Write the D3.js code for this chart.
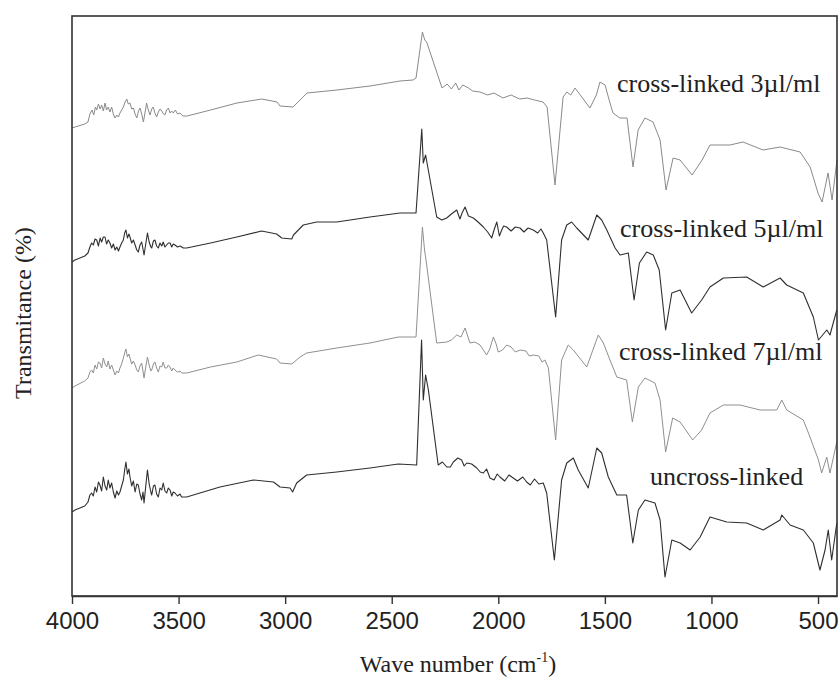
<!DOCTYPE html>
<html>
<head>
<meta charset="utf-8">
<script src="https://cdn.jsdelivr.net/npm/d3@7"></script>
<style>
  html, body { margin: 0; padding: 0; background: #fff; }
  svg { display: block; }
</style>
</head>
<body>
<svg id="chart" width="840" height="683"></svg>
<script>
// FTIR spectra, stacked with vertical offsets: [wavenumber (cm-1), transmittance (a.u.)]
const crossLinked3 = [
  [4000,46.8],[3986,46.9],[3940,47.2],[3925,47.4],[3916,48.2],[3906,48.6],[3898,48.1],[3890,48.9],
  [3884,48.6],[3876,49.2],[3868,48.7],[3861,49.1],[3853,48.5],[3845,49.3],[3838,48.6],[3830,48.9],
  [3822,48.4],[3814,48.9],[3806,48.2],[3798,47.8],[3790,48.1],[3782,47.9],[3775,48.3],[3767,48.6],
  [3759,48.9],[3751,49.4],[3743,49.7],[3736,49.2],[3728,49.3],[3720,48.7],[3712,48.8],[3704,48.2],
  [3696,47.8],[3688,48.5],[3681,48.8],[3673,48.2],[3665,47.4],[3657,48.4],[3650,49.3],[3642,48.6],
  [3634,48.1],[3626,48.7],[3619,48.9],[3611,48.3],[3603,47.9],[3595,48.4],[3587,48.7],[3579,48.5],
  [3571,48.2],[3564,48.1],[3556,48.6],[3548,48.8],[3540,48.3],[3532,48.5],[3525,48.3],[3515,48.6],
  [3505,48.2],[3493,48.3],[3480,48.0],[3460,48.0],[3350,48.6],[3226,49.3],[3109,49.7],[3038,49.4],
  [3024,49.0],[2963,48.9],[2930,49.6],[2897,50.3],[2757,50.6],[2602,51.0],[2461,51.5],[2400,51.6],
  [2386,51.8],[2356,56.4],[2345,55.6],[2336,55.4],[2264,50.8],[2240,51.2],[2220,50.7],[2200,51.3],
  [2185,50.6],[2166,51.1],[2140,50.8],[2120,50.5],[2086,50.4],[2050,50.1],[2020,50.3],[1978,49.8],
  [1940,50.1],[1900,49.7],[1865,49.8],[1830,49.6],[1790,49.4],[1771,48.9],[1734,41.1],[1696,49.9],
  [1678,50.4],[1660,50.1],[1640,50.8],[1570,48.8],[1540,50.1],[1523,51.4],[1499,51.1],[1480,49.6],
  [1462,48.3],[1430,47.8],[1396,47.8],[1368,42.9],[1344,46.6],[1312,47.8],[1274,47.4],[1241,45.6],
  [1213,40.6],[1180,43.8],[1147,43.6],[1091,42.1],[1044,43.6],[1007,45.1],[913,45.1],[852,45.4],
  [758,44.6],[678,44.9],[584,44.4],[537,42.9],[500,40.3],[481,39.4],[453,42.3],[434,39.6],[411,43.6]
];

const crossLinked5 = [
  [4000,33.4],[3986,33.6],[3940,34.0],[3925,34.3],[3916,34.9],[3908,35.3],[3900,35.1],[3892,35.7],
  [3884,35.6],[3876,35.0],[3868,35.8],[3861,35.4],[3853,35.9],[3845,35.9],[3838,35.2],[3830,35.6],
  [3822,35.3],[3814,34.8],[3806,35.2],[3798,34.6],[3790,34.9],[3782,34.5],[3775,34.9],[3767,35.3],
  [3759,35.6],[3753,36.3],[3747,36.6],[3740,35.8],[3733,36.2],[3728,35.9],[3720,35.3],[3712,35.6],
  [3704,35.1],[3696,34.6],[3689,34.4],[3681,35.1],[3673,35.4],[3667,34.7],[3662,34.1],[3654,35.2],
  [3646,36.3],[3638,35.4],[3630,34.9],[3626,34.8],[3618,35.5],[3611,35.6],[3603,35.0],[3595,34.8],
  [3587,35.3],[3579,35.0],[3572,35.4],[3564,34.9],[3556,35.1],[3548,35.3],[3540,35.3],[3532,34.9],
  [3525,35.2],[3517,35.1],[3505,34.9],[3493,35.0],[3478,34.8],[3462,34.8],[3350,35.3],[3227,35.9],
  [3110,36.5],[3040,36.2],[3016,35.8],[2969,35.7],[2961,36.1],[2915,37.1],[2852,37.4],[2758,37.4],
  [2602,37.9],[2461,38.3],[2386,38.3],[2359,46.7],[2352,43.3],[2341,44.1],[2289,37.9],[2265,37.6],
  [2242,37.8],[2220,38.2],[2195,38.6],[2180,37.7],[2170,38.3],[2156,38.9],[2140,38.0],[2117,37.8],
  [2095,37.4],[2070,36.9],[2050,36.4],[2031,35.8],[2020,36.6],[2007,37.4],[1995,36.0],[1984,36.6],
  [1975,37.0],[1961,36.9],[1940,36.5],[1920,36.9],[1898,36.8],[1880,36.4],[1860,36.8],[1836,36.6],
  [1815,36.3],[1800,36.7],[1789,36.3],[1773,35.6],[1731,27.9],[1703,35.6],[1679,37.1],[1656,37.4],
  [1632,36.8],[1578,35.6],[1538,38.1],[1515,37.6],[1491,36.6],[1452,34.8],[1429,34.1],[1390,34.3],
  [1363,29.6],[1338,33.3],[1304,34.4],[1273,34.1],[1245,32.6],[1215,26.6],[1186,30.3],[1147,30.6],
  [1093,28.3],[1046,29.6],[1007,30.9],[944,31.8],[835,31.9],[757,30.9],[678,31.8],[647,31.1],
  [569,30.3],[522,27.9],[498,25.6],[459,26.6],[444,26.1],[412,28.6]
];

const crossLinked7 = [
  [4000,20.8],[3986,21.0],[3940,21.5],[3925,21.8],[3916,22.4],[3908,22.6],[3900,22.3],[3892,23.1],
  [3884,22.7],[3876,23.4],[3869,23.3],[3861,22.8],[3853,23.8],[3845,23.2],[3837,22.9],[3830,23.5],
  [3822,22.7],[3814,23.1],[3806,22.6],[3798,22.1],[3790,22.5],[3782,22.3],[3775,22.8],[3767,23.2],
  [3759,23.8],[3753,24.3],[3747,24.7],[3740,23.9],[3733,24.2],[3728,23.8],[3720,23.2],[3712,23.5],
  [3704,23.1],[3696,22.6],[3689,22.4],[3681,23.0],[3673,23.3],[3667,22.5],[3662,21.8],[3654,22.9],
  [3646,23.9],[3638,23.1],[3630,22.5],[3626,22.6],[3618,23.2],[3611,23.4],[3603,22.8],[3595,22.4],
  [3587,23.0],[3579,22.9],[3572,23.4],[3564,22.8],[3556,22.8],[3548,23.1],[3540,22.9],[3532,22.5],
  [3525,22.8],[3517,22.6],[3505,22.4],[3493,22.5],[3486,22.3],[3462,22.3],[3350,22.9],[3227,23.4],
  [3126,24.1],[3040,23.7],[3024,23.3],[2969,23.2],[2930,23.9],[2899,24.3],[2758,24.8],[2602,25.3],
  [2469,25.9],[2386,25.9],[2356,36.9],[2346,34.6],[2336,33.1],[2289,25.3],[2242,25.4],[2220,25.6],
  [2195,26.1],[2175,25.9],[2156,26.8],[2133,25.3],[2110,25.4],[2086,25.1],[2070,24.6],[2055,24.1],
  [2040,24.7],[2023,25.9],[2010,25.2],[2000,24.4],[1980,24.6],[1961,25.1],[1940,24.9],[1920,24.4],
  [1898,24.6],[1870,24.5],[1855,24.0],[1836,24.1],[1810,24.0],[1795,23.4],[1781,23.6],[1765,22.8],
  [1731,15.6],[1703,23.6],[1672,25.1],[1648,24.6],[1585,22.9],[1531,26.1],[1507,25.3],[1476,23.6],
  [1444,21.9],[1398,21.6],[1371,17.4],[1343,20.9],[1312,21.8],[1265,21.3],[1241,19.6],[1215,14.4],
  [1182,17.8],[1147,17.4],[1088,15.6],[1046,16.6],[1007,18.3],[944,19.1],[866,19.1],[772,18.6],
  [694,18.6],[670,19.6],[647,18.6],[569,17.6],[545,16.3],[498,13.6],[483,12.3],[459,13.9],
  [444,12.3],[412,15.4]
];

const uncrossLinked = [
  [4000,8.4],[3986,8.6],[3940,9.0],[3925,9.4],[3916,10.1],[3908,10.3],[3900,10.0],[3892,10.9],
  [3884,10.4],[3876,11.4],[3869,11.1],[3861,10.5],[3853,11.9],[3845,11.0],[3837,10.6],[3830,11.6],
  [3822,10.8],[3814,11.3],[3806,10.4],[3798,9.8],[3790,10.5],[3782,10.1],[3775,10.4],[3767,11.0],
  [3759,11.6],[3753,12.6],[3747,13.4],[3740,12.2],[3733,12.7],[3728,11.9],[3720,11.0],[3712,11.5],
  [3704,10.4],[3696,11.2],[3689,11.1],[3681,10.2],[3673,9.6],[3667,10.4],[3662,9.3],[3654,11.0],
  [3646,12.6],[3638,11.2],[3630,10.4],[3626,10.1],[3618,11.0],[3611,11.1],[3603,10.2],[3595,9.9],
  [3587,10.8],[3579,10.6],[3572,11.3],[3564,10.5],[3556,10.3],[3548,10.8],[3540,10.6],[3532,10.0],
  [3525,10.4],[3517,10.3],[3505,10.0],[3493,10.2],[3486,9.9],[3462,9.9],[3306,10.9],[3149,11.6],
  [3055,11.4],[3024,10.9],[2977,10.8],[2965,10.4],[2946,11.3],[2899,12.1],[2758,12.4],[2602,12.8],
  [2469,13.2],[2383,13.1],[2360,25.6],[2352,19.6],[2341,22.1],[2328,20.6],[2282,13.1],[2262,13.4],
  [2242,12.9],[2225,12.9],[2211,13.4],[2190,13.8],[2172,13.6],[2160,13.0],[2148,13.3],[2125,13.2],
  [2101,12.8],[2085,12.4],[2070,12.3],[2055,12.7],[2039,11.8],[2020,11.6],[2005,12.2],[1992,11.9],
  [1970,11.5],[1950,12.1],[1930,11.8],[1910,11.5],[1885,11.9],[1867,11.4],[1850,11.1],[1830,11.7],
  [1810,11.2],[1789,11.3],[1773,10.3],[1737,3.6],[1703,11.6],[1679,13.3],[1648,13.8],[1625,12.6],
  [1578,10.8],[1538,14.8],[1515,14.3],[1484,11.9],[1444,10.1],[1398,10.1],[1369,5.3],[1343,8.6],
  [1312,9.6],[1265,9.3],[1241,7.6],[1218,1.9],[1186,5.6],[1147,5.3],[1100,4.6],[1053,5.9],
  [1007,7.9],[928,7.4],[835,7.3],[757,6.6],[678,7.6],[670,8.1],[631,7.1],[569,6.6],
  [522,5.3],[491,2.6],[467,4.6],[452,6.6],[436,3.6],[412,7.3]
];

const seriesNames = ["cross-linked 3\u00b5l/ml", "cross-linked 5\u00b5l/ml", "cross-linked 7\u00b5l/ml", "uncross-linked"];
const seriesData = [crossLinked3, crossLinked5, crossLinked7, uncrossLinked];
// label anchor points, in data units [wavenumber, transmittance]
const labelPos = [[1443, 50.4], [1429, 35.9], [1434, 23.6], [1288, 11.1]];
const xTicks = [4000, 3500, 3000, 2500, 2000, 1500, 1000, 500];

const svg = d3.select("#chart");
const W = 840, H = 683;
const m = { left: 72, right: 837, top: 16, bottom: 596 };

const x = d3.scaleLinear().domain([4000, 411]).range([m.left, m.right]);
const y = d3.scaleLinear().domain([0, 58]).range([m.bottom, m.top]);

svg.append("rect").attr("width", W).attr("height", H).attr("fill", "#fff");

const strokes = ["#8a8a8a", "#2f2f2f", "#909090", "#2f2f2f"];
const widths = [1.0, 1.1, 1.0, 1.1];

const line = d3.line().x(d => x(d[0])).y(d => y(d[1]));

svg.append("g").selectAll("path")
  .data(seriesData)
  .join("path")
  .attr("d", line)
  .attr("fill", "none")
  .attr("stroke", (d, i) => strokes[i])
  .attr("stroke-width", (d, i) => widths[i])
  .attr("stroke-linejoin", "round");

// series labels
svg.append("g").selectAll("text")
  .data(seriesNames)
  .join("text")
  .attr("x", (d, i) => x(labelPos[i][0]))
  .attr("y", (d, i) => y(labelPos[i][1]))
  .attr("font-family", "'Liberation Serif', 'Times New Roman', serif")
  .attr("font-size", 26)
  .attr("fill", "#222")
  .text(d => d);

// frame
svg.append("rect")
  .attr("x", m.left).attr("y", m.top)
  .attr("width", m.right - m.left).attr("height", m.bottom - m.top)
  .attr("fill", "none").attr("stroke", "#333").attr("stroke-width", 1.6);

// bottom axis
const xAxis = d3.axisBottom(x).tickValues(xTicks).tickFormat(d3.format("d"))
  .tickSize(8).tickPadding(8).tickSizeOuter(0);
const gx = svg.append("g").attr("transform", `translate(0,${m.bottom})`).call(xAxis);
gx.select(".domain").attr("stroke", "#333").attr("stroke-width", 1.6);
gx.selectAll(".tick line").attr("stroke", "#333").attr("stroke-width", 1.4);
gx.selectAll(".tick text")
  .attr("font-family", "'Liberation Sans', Arial, sans-serif")
  .attr("font-size", 24)
  .attr("fill", "#222");

// axis titles
const xTitle = svg.append("text")
  .attr("x", 458).attr("y", 672)
  .attr("text-anchor", "middle")
  .attr("font-family", "'Liberation Serif', 'Times New Roman', serif")
  .attr("font-size", 24)
  .attr("fill", "#222");
xTitle.append("tspan").text("Wave number (cm");
xTitle.append("tspan").attr("font-size", 14).attr("dy", -10).text("-1");
xTitle.append("tspan").attr("dy", 10).text(")");

svg.append("text")
  .attr("transform", "translate(31,313) rotate(-90)")
  .attr("text-anchor", "middle")
  .attr("font-family", "'Liberation Serif', 'Times New Roman', serif")
  .attr("font-size", 24)
  .attr("fill", "#222")
  .text("Transmitance (%)");
</script>
</body>
</html>
